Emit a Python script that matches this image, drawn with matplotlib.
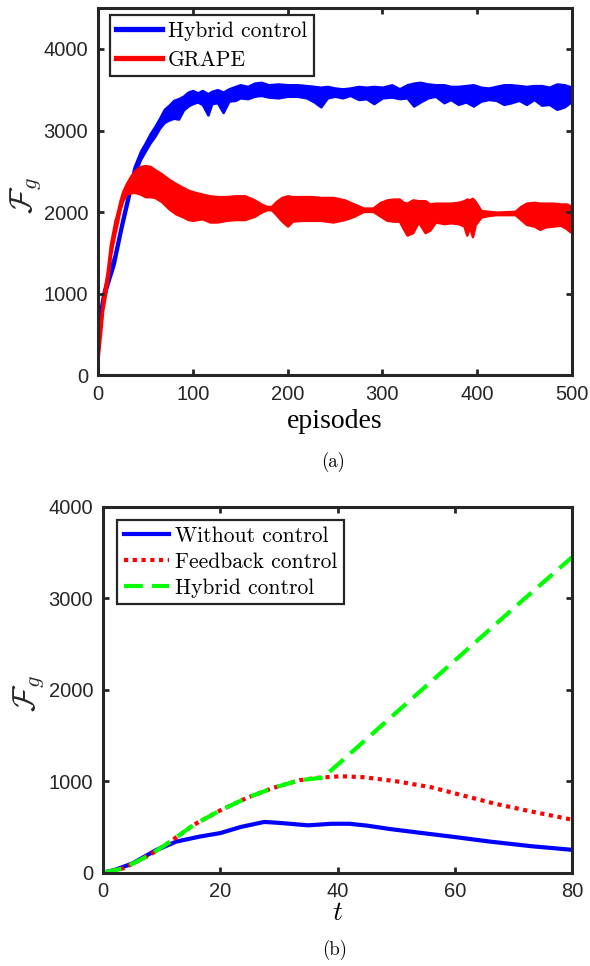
import matplotlib
matplotlib.use("Agg")
import matplotlib.pyplot as plt
from matplotlib.lines import Line2D
import numpy as np

plt.rcParams['mathtext.fontset'] = 'cm'
plt.rcParams['font.family'] = 'Liberation Sans'

# (a) envelopes of the oscillating curves
ep_hybrid = [0, 5, 10, 17, 25, 32, 38, 45, 50, 55, 60, 65, 70, 75, 80, 85, 90, 95, 100,
             105, 110, 116, 120, 126, 132, 138, 145, 150, 158, 165, 172, 180, 190, 200,
             210, 220, 228, 235, 242, 250, 258, 266, 275, 283, 291, 300, 310, 318, 326,
             333, 340, 348, 356, 365, 372, 380, 388, 396, 404, 412, 420, 428, 436, 444,
             452, 460, 468, 476, 484, 492, 500]
hybrid_lo = [560, 900, 1100, 1360, 1800, 2150, 2450, 2650, 2750, 2850, 2930, 3030, 3100,
             3130, 3150, 3140, 3250, 3300, 3330, 3350, 3320, 3190, 3330, 3340, 3220, 3360,
             3370, 3400, 3390, 3420, 3430, 3410, 3400, 3420, 3420, 3400, 3350, 3290, 3400,
             3420, 3400, 3430, 3380, 3390, 3330, 3400, 3410, 3390, 3400, 3300, 3350, 3400,
             3420, 3340, 3380, 3320, 3350, 3300, 3360, 3380, 3370, 3320, 3340, 3370, 3320,
             3380, 3310, 3320, 3260, 3290, 3360]
hybrid_hi = [650, 1000, 1220, 1470, 1900, 2250, 2550, 2750, 2850, 2960, 3050, 3150, 3260,
             3310, 3370, 3390, 3420, 3470, 3490, 3460, 3490, 3450, 3480, 3500, 3470, 3510,
             3540, 3560, 3540, 3580, 3590, 3560, 3570, 3560, 3560, 3550, 3540, 3530, 3540,
             3520, 3510, 3520, 3540, 3530, 3540, 3530, 3560, 3510, 3560, 3580, 3590, 3570,
             3560, 3560, 3540, 3540, 3550, 3560, 3530, 3520, 3540, 3560, 3560, 3550, 3540,
             3550, 3550, 3530, 3570, 3560, 3530]

ep_grape = [0, 3, 5, 8, 10, 13, 15, 18, 20, 23, 26, 30, 35, 40, 45, 50, 55, 60, 67, 75,
            82, 90, 95, 100, 110, 118, 126, 135, 145, 155, 165, 172, 178, 183, 188, 194,
            200, 205, 214, 225, 235, 248, 260, 270, 280, 290, 298, 305, 312, 318, 322,
            326, 332, 338, 345, 350, 356, 365, 372, 380, 386, 389, 392, 395, 398, 404,
            412, 420, 430, 440, 446, 452, 460, 466, 472, 480, 488, 494, 498, 500]
grape_lo = [200, 550, 800, 1000, 1150, 1450, 1580, 1750, 1850, 2020, 2140, 2220, 2240,
            2240, 2220, 2190, 2190, 2180, 2130, 2040, 1980, 1940, 1910, 1900, 1920, 1880,
            1880, 1900, 1910, 1910, 1950, 2000, 2030, 2030, 1970, 1890, 1830, 1890, 1900,
            1900, 1900, 1880, 1910, 1950, 2010, 2010, 1950, 1900, 1890, 1890, 1800, 1720,
            1750, 1880, 1750, 1780, 1880, 1860, 1870, 1860, 1830, 1720, 1820, 1700, 1850,
            1940, 1960, 1970, 1970, 1970, 1910, 1850, 1830, 1790, 1820, 1830, 1840, 1800,
            1760, 1780]
grape_hi = [300, 700, 950, 1150, 1300, 1600, 1720, 1900, 1980, 2130, 2250, 2350, 2450,
            2520, 2560, 2570, 2560, 2520, 2470, 2400, 2350, 2300, 2270, 2250, 2220, 2200,
            2190, 2190, 2200, 2200, 2150, 2100, 2070, 2070, 2130, 2180, 2200, 2190, 2190,
            2190, 2180, 2180, 2150, 2100, 2050, 2050, 2120, 2150, 2160, 2160, 2120, 2110,
            2150, 2140, 2140, 2100, 2110, 2110, 2110, 2120, 2140, 2160, 2150, 2170, 2130,
            2020, 2010, 2000, 2005, 2010, 2070, 2110, 2120, 2110, 2110, 2110, 2100, 2100,
            2080, 2060]

# (b)
t_without = [0, 2, 5, 9, 12.5, 16.5, 20, 23.5, 27.5, 30, 35, 39, 42, 45, 49, 54.5, 60, 66, 73, 80]
f_without = [0, 30, 100, 245, 340, 395, 433, 500, 555, 545, 518, 535, 535, 515, 477, 433,
             390, 340, 290, 250]
t_feedback = [0, 3.5, 8, 11.5, 15.5, 20, 24.5, 29, 33.5, 36.5, 40.5, 44.5, 50, 56, 61.5, 67, 73, 80]
f_feedback = [0, 48, 194, 341, 524, 681, 817, 927, 1011, 1037, 1055, 1044, 1000, 934, 843,
              752, 670, 580]
t_hybrid = [0, 3.5, 8, 11.5, 15.5, 20, 24.5, 29, 33.5, 37.5, 40, 50, 60, 70, 80]
f_hybrid = [0, 48, 194, 341, 524, 681, 817, 927, 1011, 1040, 1180, 1750, 2320, 2890, 3450]

spine_c = '#262626'
fig = plt.figure(figsize=(5.9, 9.66), dpi=100)
ax1 = fig.add_axes([0.1661, 0.6113, 0.8034, 0.3804])
ax2 = fig.add_axes([0.1746, 0.0966, 0.7949, 0.3786])


def style(ax):
    for s in ax.spines.values():
        s.set_linewidth(2.2)
        s.set_color(spine_c)
    ax.tick_params(direction='in', length=4, width=2, top=True, right=True,
                   labelsize=14.5, colors=spine_c, pad=7)


def legend_box(leg):
    leg.get_frame().set_edgecolor(spine_c)
    leg.get_frame().set_linewidth(1.6)
    leg.get_frame().set_alpha(1)


# (a)
ax1.fill_between(ep_hybrid, hybrid_lo, hybrid_hi, color='#0000ff', lw=1.8, edgecolor='#0000ff')
ax1.fill_between(ep_grape, grape_lo, grape_hi, color='#ff0000', lw=1.8, edgecolor='#ff0000')
ax1.set_xlim(0, 500)
ax1.set_ylim(0, 4500)
ax1.set_xticks([0, 100, 200, 300, 400, 500])
ax1.set_yticks([0, 1000, 2000, 3000, 4000])
style(ax1)
ax1.set_xlabel('episodes', family='Liberation Serif', fontsize=20)
ax1.xaxis.set_label_coords(0.5, -0.125)
ax1.xaxis.label.set_va('center')
ax1.set_ylabel(r'$\mathcal{F}_g$', fontsize=23, color=spine_c)
ax1.yaxis.set_label_coords(-0.152, 0.49)
ax1.yaxis.label.set_va('center')
h1 = [Line2D([], [], color='#0000ff', lw=3.8), Line2D([], [], color='#ff0000', lw=3.8)]
leg1 = ax1.legend(h1, ['Hybrid control', 'GRAPE'], loc='upper left',
                  bbox_to_anchor=(0.025, 0.981), borderaxespad=0, fancybox=False,
                  prop={'family': 'cmr10', 'size': 15.5}, handlelength=2.1,
                  handletextpad=0.3, borderpad=0.3, labelspacing=0.42)
legend_box(leg1)

# (b)
ax2.plot(t_without, f_without, color='#0000ff', lw=3, label='Without control')
ax2.plot(t_feedback, f_feedback, color='#ff0000', lw=3, dashes=(1, 1.1), label='Feedback control')
ax2.plot(t_hybrid, f_hybrid, color='#00ff00', lw=3, dashes=(4.5, 2.2), label='Hybrid control')
ax2.set_xlim(0, 80)
ax2.set_ylim(0, 4000)
ax2.set_xticks([0, 20, 40, 60, 80])
ax2.set_yticks([0, 1000, 2000, 3000, 4000])
style(ax2)
ax2.set_xlabel(r'$t$', fontsize=20)
ax2.xaxis.set_label_coords(0.5, -0.11)
ax2.xaxis.label.set_va('center')
ax2.set_ylabel(r'$\mathcal{F}_g$', fontsize=23, color=spine_c)
ax2.yaxis.set_label_coords(-0.158, 0.49)
ax2.yaxis.label.set_va('center')
leg2 = ax2.legend(loc='upper left', bbox_to_anchor=(0.03, 0.9645), borderaxespad=0,
                  fancybox=False, prop={'family': 'cmr10', 'size': 15.5}, handlelength=2.1,
                  handletextpad=0.3, borderpad=0.3, labelspacing=0.3)
legend_box(leg2)

fig.text(333 / 590, 1 - 462 / 966, '(a)', family='cmr10', fontsize=13.5, ha='center', va='center')
fig.text(335 / 590, 1 - 950 / 966, '(b)', family='cmr10', fontsize=13.5, ha='center', va='center')

fig.savefig('out.png', dpi=100)
